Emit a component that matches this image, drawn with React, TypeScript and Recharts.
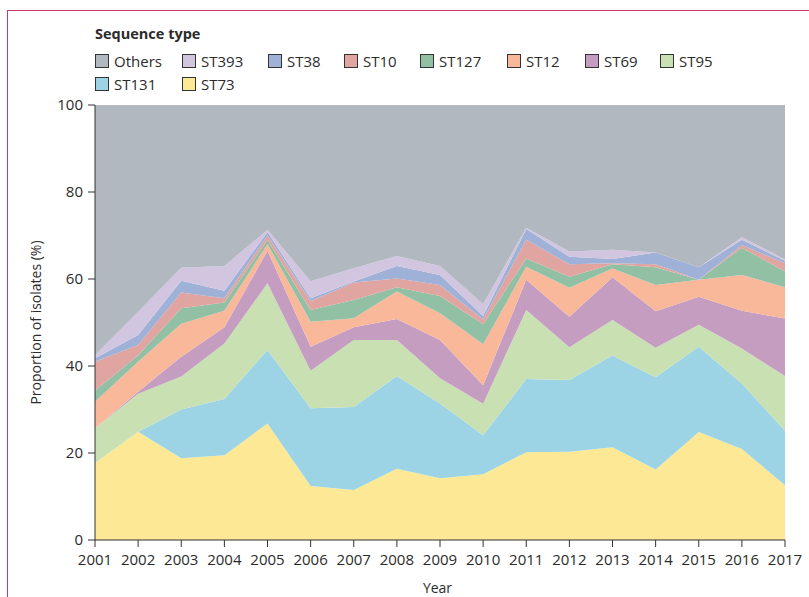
import { AreaChart, Area, XAxis, YAxis } from 'recharts'

const years = [2001, 2002, 2003, 2004, 2005, 2006, 2007, 2008, 2009, 2010, 2011, 2012, 2013, 2014, 2015, 2016, 2017]

// proportions (%) per sequence type
const st73 = [17.7, 24.9, 18.8, 19.5, 26.8, 12.4, 11.5, 16.4, 14.2, 15.1, 20.2, 20.3, 21.3, 16.2, 24.8, 20.9, 12.6]
const st131 = [0, 0, 11.2, 12.9, 16.9, 17.9, 19.1, 21.3, 17.2, 9.0, 16.8, 16.5, 21.1, 21.2, 19.6, 15.1, 12.5]
const st95 = [8.0, 8.7, 7.6, 12.8, 15.3, 8.6, 15.4, 8.3, 5.8, 7.2, 15.9, 7.5, 8.2, 6.8, 5.1, 8.0, 12.6]
const st69 = [0, 0.5, 4.5, 3.7, 7.5, 5.5, 2.9, 4.8, 8.8, 4.3, 6.9, 7.0, 9.8, 8.4, 6.4, 8.7, 13.2]
const st12 = [6.1, 6.9, 7.6, 3.8, 1.5, 5.8, 2.1, 6.3, 6.1, 9.4, 3.0, 6.7, 2.0, 6.0, 3.9, 8.2, 7.2]
const st127 = [2.5, 1.5, 3.6, 1.9, 1.0, 2.7, 4.2, 1.0, 4.0, 4.6, 1.9, 2.5, 1.0, 4.1, 0, 6.3, 3.6]
const st10 = [6.7, 2.3, 3.6, 1.0, 1.0, 2.0, 4.0, 2.0, 2.5, 1.1, 4.3, 2.9, 0.2, 0.7, 0, 0.6, 1.9]
const st38 = [0.8, 2.3, 2.7, 1.7, 0.8, 0.7, 0.2, 2.9, 2.3, 0.8, 2.5, 1.7, 1.0, 2.7, 2.9, 1.2, 0.6]
const st393 = [0.7, 5.4, 3.0, 5.7, 0.5, 3.9, 3.1, 2.3, 2.1, 2.7, 0.3, 1.2, 2.1, 0, 0, 0.6, 0.3]

const yTicks = [0, 20, 40, 60, 80, 100]

// bottom to top stacking order
const series = [
  { key: 'ST73', values: st73, color: '#fde995' },
  { key: 'ST131', values: st131, color: '#9cd4e6' },
  { key: 'ST95', values: st95, color: '#c9e0b2' },
  { key: 'ST69', values: st69, color: '#c59dc1' },
  { key: 'ST12', values: st12, color: '#f9b89a' },
  { key: 'ST127', values: st127, color: '#91c0a5' },
  { key: 'ST10', values: st10, color: '#e0a4a1' },
  { key: 'ST38', values: st38, color: '#9fb1d7' },
  { key: 'ST393', values: st393, color: '#d1c5e0' },
]

const othersColor = '#b2b8bf'

const data = years.map((year, i) => {
  const row: Record<string, number> = { year }
  let sum = 0
  series.forEach(s => {
    row[s.key] = s.values[i]
    sum += s.values[i]
  })
  row.Others = +(100 - sum).toFixed(1)
  return row
})

const legendNames = ['Others', 'ST393', 'ST38', 'ST10', 'ST127', 'ST12', 'ST69', 'ST95', 'ST131', 'ST73']
const colorOf = (name: string) =>
  name === 'Others' ? othersColor : series.find(s => s.key === name)!.color

// legend box left edges (px) for the two legend rows
const legendX = [95, 182, 268, 344, 420, 507, 585, 660, 95, 182]

const font = '"Open Sans", sans-serif'
const textColor = '#2b2b2b'

export default function App() {
  return (
    <div
      style={{
        position: 'absolute',
        left: 0,
        top: 0,
        width: 809,
        height: 597,
        background: '#fff',
        fontFamily: font,
        color: textColor,
      }}
    >
      {/* panel frame */}
      <div
        style={{
          position: 'absolute',
          left: 7,
          top: 10,
          width: 802,
          height: 587,
          borderTop: '1px solid #d23a64',
          borderLeft: '1px solid #d23a64',
        }}
      />
      <div style={{ position: 'absolute', left: 95, top: 24, fontSize: 14.5, fontWeight: 'bold' }}>
        Sequence type
      </div>
      {legendNames.map((name, i) => (
        <div
          key={name}
          style={{
            position: 'absolute',
            left: legendX[i],
            top: i < 8 ? 51 : 74,
            fontSize: 15,
            display: 'flex',
            alignItems: 'center',
            whiteSpace: 'nowrap',
          }}
        >
          <span
            style={{
              width: 12,
              height: 12,
              background: colorOf(name),
              border: '1px solid #333',
              marginRight: 5,
              display: 'inline-block',
            }}
          />
          <span>{name}</span>
        </div>
      ))}

      <div style={{ position: 'absolute', left: 0, top: 0 }}>
        <AreaChart
          width={809}
          height={597}
          data={data}
          margin={{ top: 105, right: 24, bottom: 27, left: 50 }}
        >
          <XAxis
            dataKey="year"
            type="number"
            domain={[2001, 2017]}
            ticks={years}
            interval={0}
            height={30}
            tickSize={7}
            tickMargin={7}
            stroke="#333"
            tick={{ fill: textColor, fontSize: 15, fontFamily: font }}
          />
          <YAxis
            domain={[0, 100]}
            ticks={yTicks}
            width={45}
            tickSize={7}
            tickMargin={5}
            stroke="#333"
            tick={{ fill: textColor, fontSize: 15, fontFamily: font }}
            label={{
              value: 'Proportion of isolates (%)',
              angle: -90,
              position: 'insideLeft',
              offset: -14,
              style: { textAnchor: 'middle' },
              fill: textColor,
              fontSize: 14,
              fontFamily: font,
            }}
          />
          {series.map(s => (
            <Area
              key={s.key}
              dataKey={s.key}
              stackId="1"
              type="linear"
              fill={s.color}
              fillOpacity={1}
              stroke="none"
              isAnimationActive={false}
            />
          ))}
          <Area
            dataKey="Others"
            stackId="1"
            type="linear"
            fill={othersColor}
            fillOpacity={1}
            stroke="none"
            isAnimationActive={false}
          />
        </AreaChart>
      </div>
      <div
        style={{
          position: 'absolute',
          left: 340,
          width: 195,
          top: 578,
          textAlign: 'center',
          fontSize: 14,
        }}
      >
        Year
      </div>
    </div>
  )
}
